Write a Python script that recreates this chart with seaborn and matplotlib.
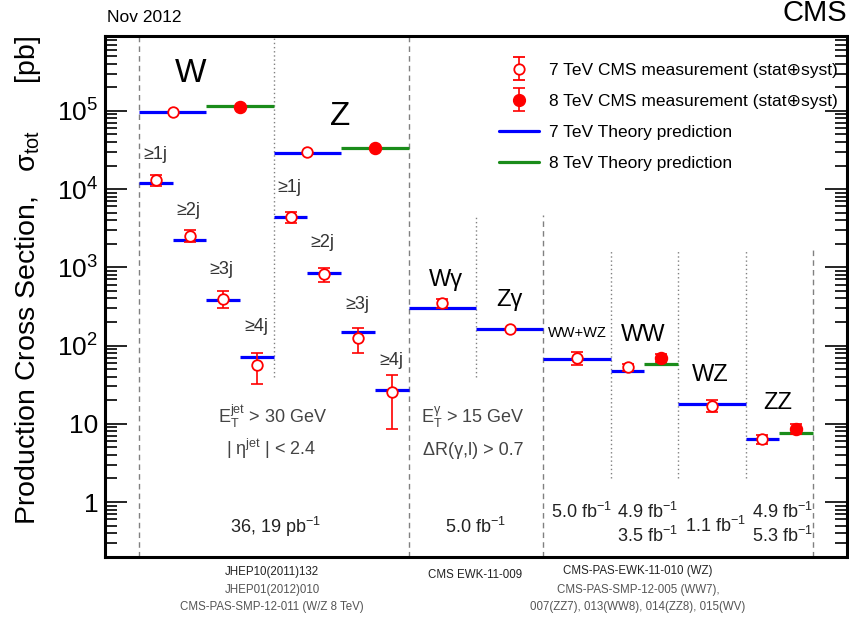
import numpy as np
import pandas as pd
import matplotlib
matplotlib.use("Agg")
import matplotlib.pyplot as plt
import matplotlib.ticker as mticker
from matplotlib.lines import Line2D
from matplotlib.container import ErrorbarContainer
from matplotlib.legend_handler import HandlerErrorbar
import seaborn as sns

# ---------------- data ----------------
process = ["W", "W", "Z", "Z",
           "W≥1j", "W≥2j", "W≥3j", "W≥4j",
           "Z≥1j", "Z≥2j", "Z≥3j", "Z≥4j",
           "Wγ", "Zγ", "WW+WZ", "WW", "WW", "WZ", "ZZ", "ZZ"]
energy = [7, 8, 7, 8, 7, 7, 7, 7, 7, 7, 7, 7, 7, 7, 7, 7, 8, 7, 7, 8]
bin_lo = [0, 1, 2, 3, 0, 0.5, 1, 1.5, 2, 2.5, 3, 3.5, 4, 5, 6, 7, 7.5, 8, 9, 9.5]
bin_hi = [1, 2, 3, 4, 0.5, 1, 1.5, 2, 2.5, 3, 3.5, 4, 5, 6, 7, 7.5, 8, 9, 9.5, 10]
theory = [9.7e4, 1.16e5, 2.93e4, 3.4e4, 1.19e4, 2.24e3, 386, 72, 4.45e3, 847, 151, 27.3,
          300, 163, 66.8, 47.8, 58.2, 17.8, 6.46, 7.7]
measured = [9.8e4, 1.11e5, 2.97e4, 3.4e4, 1.31e4, 2.54e3, 398, 56.5, 4.4e3, 824, 124, 25.5,
            347, 161, 69, 53, 70, 17.1, 6.4, 8.6]
meas_err = [0, 0, 0, 0, 2.0e3, 450, 95, 24, 700, 170, 44, 17,
            43, 0, 13, 5.5, 9, 2.8, 0.85, 1.2]

y_ticks = [1, 10, 1e2, 1e3, 1e4, 1e5]
group_labels = ["W", "Z", "Wγ", "Zγ", "WW+WZ", "WW", "WZ", "ZZ"]
jet_labels = ["≥1j", "≥2j", "≥3j", "≥4j"]
lumi_labels = ["36, 19 pb$^{-1}$", "5.0 fb$^{-1}$", "5.0 fb$^{-1}$", "4.9 fb$^{-1}$",
               "3.5 fb$^{-1}$", "1.1 fb$^{-1}$", "4.9 fb$^{-1}$", "5.3 fb$^{-1}$"]
cut_labels = [r"$E_T^{jet}$ > 30 GeV", r"| $η^{jet}$ | < 2.4",
              r"$E_T^{γ}$ > 15 GeV", "ΔR(γ,l) > 0.7"]
ref_labels = ["JHEP10(2011)132", "JHEP01(2012)010", "CMS-PAS-SMP-12-011 (W/Z 8 TeV)",
              "CMS EWK-11-009",
              "CMS-PAS-EWK-11-010 (WZ)", "CMS-PAS-SMP-12-005 (WW7),",
              "007(ZZ7), 013(WW8), 014(ZZ8), 015(WV)"]
legend_labels = ["7 TeV CMS measurement (stat⊕syst)", "8 TeV CMS measurement (stat⊕syst)",
                 "7 TeV Theory prediction", "8 TeV Theory prediction"]

df = pd.DataFrame({"process": process, "energy": energy, "lo": bin_lo, "hi": bin_hi,
                   "theory": theory, "meas": measured, "err": meas_err})
df["xc"] = (df["lo"] + df["hi"]) / 2

# ---------------- style ----------------
sns.set_style("ticks")
plt.rcParams["font.family"] = ["Liberation Sans", "DejaVu Sans"]
plt.rcParams["mathtext.fontset"] = "custom"
plt.rcParams["mathtext.rm"] = "Liberation Sans"
plt.rcParams["mathtext.it"] = "Liberation Sans"
plt.rcParams["mathtext.default"] = "regular"
plt.rcParams["text.color"] = "black"
plt.rcParams["axes.edgecolor"] = "black"
plt.rcParams["xtick.color"] = "black"
plt.rcParams["ytick.color"] = "black"

BLUE = "#0000ff"
GREEN = "#1a8c1a"
RED = "#ff0000"
CAP = 4.2

fig = plt.figure(figsize=(8.49, 6.2), dpi=100)
ax = fig.add_axes([0.1240, 0.1021, 0.8733, 0.8406])
YMIN, YMAX = 0.2, 9.2e5
ax.set_yscale("log")
ax.set_xlim(-0.5, 10.5)
ax.set_ylim(YMIN, YMAX)

# separators
seps = [(0, YMIN, YMAX, "dashed"), (2, 40, YMAX, "dotted"), (4, YMIN, YMAX, "dashed"),
        (5, 40, 4.7e3, "dotted"), (6, YMIN, 4.7e3, "dashed"),
        (7, 2.0, 1.7e3, "dotted"), (8, 2.0, 1.7e3, "dotted"), (9, 2.0, 1.7e3, "dotted"),
        (10, YMIN, 1.7e3, "dashed")]
for xs, y0, y1, st in seps:
    if st == "dashed":
        ax.vlines(xs, y0, y1, colors="#808080", linestyles=(0, (4, 3)), lw=1.0, zorder=1)
    else:
        ax.vlines(xs, y0, y1, colors="#808080", linestyles=(0, (1, 2)), lw=1.0, zorder=1)

# theory lines
for e, col in [(7, BLUE), (8, GREEN)]:
    d = df[df.energy == e]
    ax.hlines(d["theory"], d["lo"], d["hi"], colors=col, lw=2.3, zorder=2)

# error bars
de = df[df.err > 0]
ax.errorbar(de["xc"], de["meas"], yerr=de["err"], fmt="none", ecolor=RED,
            elinewidth=1.2, capsize=CAP, capthick=1.2, zorder=3)

# markers (seaborn)
d7 = df[df.energy == 7]
d8 = df[df.energy == 8]
sns.scatterplot(data=d7, x="xc", y="meas", ax=ax, marker="o", s=58,
                facecolor="white", edgecolor=RED, linewidth=1.3, zorder=5, legend=False)
sns.scatterplot(data=d8, x="xc", y="meas", ax=ax, marker="o", s=75,
                color=RED, edgecolor=RED, linewidth=1.0, zorder=5, legend=False)
ax.set_xlabel("")
ax.set_ylabel("")

# axes styling
for sp in ax.spines.values():
    sp.set_visible(True)
    sp.set_linewidth(2.2)
    sp.set_color("black")
ax.yaxis.set_major_locator(mticker.FixedLocator(y_ticks))
ax.yaxis.set_minor_locator(mticker.LogLocator(base=10, subs=np.arange(2, 10), numticks=20))


def yfmt(v, pos):
    e = int(round(np.log10(v)))
    if e == 0:
        return "1"
    if e == 1:
        return "10"
    return r"$10^{%d}$" % e


ax.yaxis.set_major_formatter(mticker.FuncFormatter(yfmt))
ax.yaxis.set_minor_formatter(mticker.NullFormatter())
ax.tick_params(axis="y", which="major", direction="in", length=16, width=1.2,
               left=True, right=True, labelsize=19, pad=5)
ax.tick_params(axis="y", which="minor", direction="in", length=8.5, width=1.2,
               left=True, right=True)
ax.tick_params(axis="x", which="both", bottom=False, top=False, labelbottom=False)

# group labels
big = dict(ha="center", va="baseline", color="black")
ax.text(0.77, 2.35e5, group_labels[0], fontsize=24, **big)
ax.text(2.98, 6.62e4, group_labels[1], fontsize=24, **big)
ax.text(4.555, 578, group_labels[2], fontsize=17, **big)
ax.text(5.50, 321, group_labels[3], fontsize=17, **big)
ax.text(6.51, 129, group_labels[4], fontsize=10.5, **big)
ax.text(7.48, 114.6, group_labels[5], fontsize=17, **big)
ax.text(8.47, 35.2, group_labels[6], fontsize=17, **big)
ax.text(9.48, 15.5, group_labels[7], fontsize=17, **big)

# jet multiplicity labels
jet_pos_w = [(0.06, 2.74e4), (0.55, 5.26e3), (1.05, 927), (1.56, 173)]
jet_pos_z = [(2.05, 1.04e4), (2.55, 2.05e3), (3.06, 340), (3.56, 63.6)]
for lab, (x, y) in zip(jet_labels, jet_pos_w):
    ax.text(x, y, lab, fontsize=13, color="#333333", ha="left", va="center")
for lab, (x, y) in zip(jet_labels, jet_pos_z):
    ax.text(x, y, lab, fontsize=13, color="#333333", ha="left", va="center")

# cut labels
cut = dict(fontsize=13, color="#444444", ha="center", va="baseline")
ax.text(1.98, 10.2, cut_labels[0], **cut)
ax.text(1.96, 3.99, cut_labels[1], **cut)
ax.text(4.96, 10.2, cut_labels[2], **cut)
ax.text(4.96, 3.99, cut_labels[3], **cut)

# luminosity labels
lum = dict(fontsize=13, color="#222222", ha="center", va="baseline")
ax.text(2.02, 0.402, lumi_labels[0], **lum)
ax.text(4.99, 0.402, lumi_labels[1], **lum)
ax.text(6.56, 0.624, lumi_labels[2], **lum)
ax.text(7.54, 0.624, lumi_labels[3], **lum)
ax.text(7.54, 0.308, lumi_labels[4], **lum)
ax.text(8.56, 0.413, lumi_labels[5], **lum)
ax.text(9.54, 0.624, lumi_labels[6], **lum)
ax.text(9.54, 0.308, lumi_labels[7], **lum)

# references below axes
W, H = 849.0, 620.0
def ftxt(px, py, s, **kw):
    fig.text(px / W, 1 - py / H, s, ha="center", va="center", **kw)

ftxt(272, 572, ref_labels[0], fontsize=8.3, color="#222222")
ftxt(272, 590, ref_labels[1], fontsize=8.3, color="#555555")
ftxt(272, 607, ref_labels[2], fontsize=8.3, color="#555555")
ftxt(475, 575, ref_labels[3], fontsize=8.3, color="#222222")
ftxt(638, 571, ref_labels[4], fontsize=8.3, color="#222222")
ftxt(638, 590, ref_labels[5], fontsize=8.3, color="#555555")
ftxt(638, 607, ref_labels[6], fontsize=8.3, color="#555555")

# header texts
fig.text(107 / W, 1 - 17 / H, "Nov 2012", ha="left", va="center", fontsize=12.5)
fig.text(847 / W, 1 - 13 / H, "CMS", ha="right", va="center", fontsize=21)

# y label
fig.text(28 / W, 1 - 36 / H, r"Production Cross Section,   $σ_{tot}$      [pb]",
         rotation=90, ha="center", va="top", fontsize=20.5)

# legend
h7 = ax.errorbar([np.nan], [np.nan], yerr=[1], fmt="o", ms=7.5, mfc="white", mec=RED,
                 mew=1.3, ecolor=RED, elinewidth=1.2, capsize=CAP, capthick=1.2)
h8 = ax.errorbar([np.nan], [np.nan], yerr=[1], fmt="o", ms=8.5, mfc=RED, mec=RED,
                 ecolor=RED, elinewidth=1.2, capsize=CAP, capthick=1.2)
hb = Line2D([], [], color=BLUE, lw=2.3)
hg = Line2D([], [], color=GREEN, lw=2.3)
leg = ax.legend([h7, h8, hb, hg], legend_labels, loc="upper left",
                bbox_to_anchor=(0.531, 0.948), frameon=False, fontsize=12.5,
                handlelength=2.3, handletextpad=0.6, labelspacing=0.91,
                borderpad=0, borderaxespad=0,
                handler_map={ErrorbarContainer: HandlerErrorbar(yerr_size=0.65)})

fig.savefig("out.png", dpi=100)
